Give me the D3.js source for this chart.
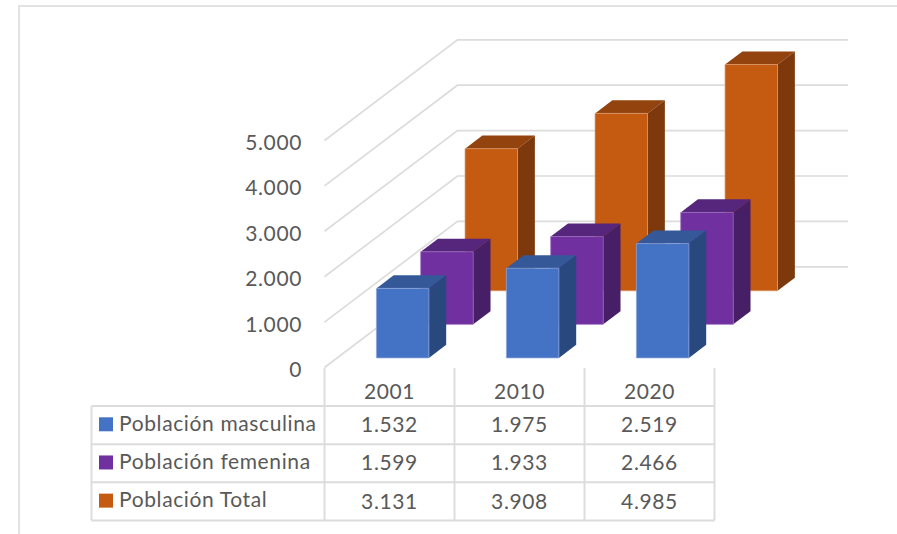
<!DOCTYPE html>
<html><head><meta charset="utf-8">
<script src="https://cdn.jsdelivr.net/npm/d3@7"></script>
<style>html,body{margin:0;background:#fff}svg{display:block}text{font-family:Lato,"Open Sans",sans-serif;fill:#595959}</style>
</head><body><svg id="c" width="897" height="534"></svg>
<script>
const categories=["2001","2010","2020"];
const seriesNames=["Población masculina","Población femenina","Población Total"];
const masculina=[1532,1975,2519];
const femenina=[1599,1933,2466];
const total=[3131,3908,4985];
const tickValues=[0,1000,2000,3000,4000,5000];
const tickLabels=["0","1.000","2.000","3.000","4.000","5.000"];
const front=["#4472c4","#7030a0","#c55a11"];
const topC=["#345898","#56267c","#93430d"];
const side=["#29487e","#471f66","#7d390b"];
const edge=["#8fa9dc","#9a6cbf","#dd9a6c"];
const values=[masculina,femenina,total];
const svg=d3.select("#c");
const grid="#dcdcdc";
const FS=21,LS=0.62;
// frame
svg.append("path").attr("d","M19,534V6H897").attr("fill","none").attr("stroke","#e2e2e2").attr("stroke-width",2);
// scales
const xCat=d3.scaleBand().domain(categories).range([324.5,714.5]);
const xBar=d3.scaleBand().domain(categories).range([325,715]).paddingInner(0.596).paddingOuter(0.298);
const yVal=d3.scaleLinear().domain([0,5000]).range([367.5,140.5]);
const depth=d3.scaleLinear().domain([0,3]).range([0,1]);
const DX=133,DY=100.7;
const proj=(x,v,d)=>[x+depth(d)*DX,yVal(v)-depth(d)*DY];
const poly=pts=>"M"+pts.map(p=>p.join(",")).join("L")+"Z";
const wallR=848;
// grid
tickValues.forEach(t=>{
  const a=proj(xCat.range()[0],t,0),b=proj(xCat.range()[0],t,3);
  svg.append("path").attr("d",`M${a}L${b}H${wallR}`).attr("fill","none").attr("stroke",grid).attr("stroke-width",1.7);
});
// y labels
tickValues.forEach((t,i)=>{
  svg.append("text").attr("x",302).attr("y",yVal(t)+9.5).attr("text-anchor","end").attr("font-size",FS).attr("letter-spacing",LS).text(tickLabels[i]);
});
// bars, back to front
const dGap=0.285,dLen=0.39;
[2,1,0].forEach(s=>{
  categories.forEach((c,i)=>{
    const x0=xBar(c),x1=x0+xBar.bandwidth(),v=values[s][i];
    const d0=s+dGap,d1=d0+dLen;
    const g=svg.append("g");
    g.append("path").attr("d",poly([proj(x0,v,d0),proj(x0,v,d1),proj(x1,v,d1),proj(x1,v,d0)])).attr("fill",topC[s]);
    g.append("path").attr("d",poly([proj(x1,0,d0),proj(x1,v,d0),proj(x1,v,d1),proj(x1,0,d1)])).attr("fill",side[s]);
    g.append("path").attr("d",poly([proj(x0,0,d0),proj(x0,v,d0),proj(x1,v,d0),proj(x1,0,d0)])).attr("fill",front[s]).attr("stroke",edge[s]).attr("stroke-width",0.7);
  });
});
// data table
const rowY=d3.scaleBand().domain(seriesNames).range([406,520.5]);
const colX=[324.5,454.5,584.5,714.5];
const t=svg.append("g").attr("stroke",grid).attr("stroke-width",1.9).attr("fill","none");
colX.forEach(x=>t.append("path").attr("d",`M${x},368V520.5`));
t.append("path").attr("d","M91.5,406V520.5");
[406,444.2,482.3,520.5].forEach(y=>t.append("path").attr("d",`M91.5,${y}H714.5`));
categories.forEach((c,i)=>svg.append("text").attr("x",xCat(c)+xCat.bandwidth()/2).attr("y",399).attr("text-anchor","middle").attr("font-size",FS).attr("letter-spacing",LS).text(c));
seriesNames.forEach((n,s)=>{
  const y=rowY(n);
  svg.append("rect").attr("x",99).attr("y",y+11.3).attr("width",14).attr("height",14).attr("fill",front[s]);
  svg.append("text").attr("x",119).attr("y",y+25).attr("font-size",FS).attr("letter-spacing",LS).text(n);
  categories.forEach((c,i)=>svg.append("text").attr("x",xCat(c)+xCat.bandwidth()/2).attr("y",y+26.2).attr("text-anchor","middle").attr("font-size",FS).attr("letter-spacing",LS).text(d3.format(",")(values[s][i]).replace(",",".")));
});
</script></body></html>
